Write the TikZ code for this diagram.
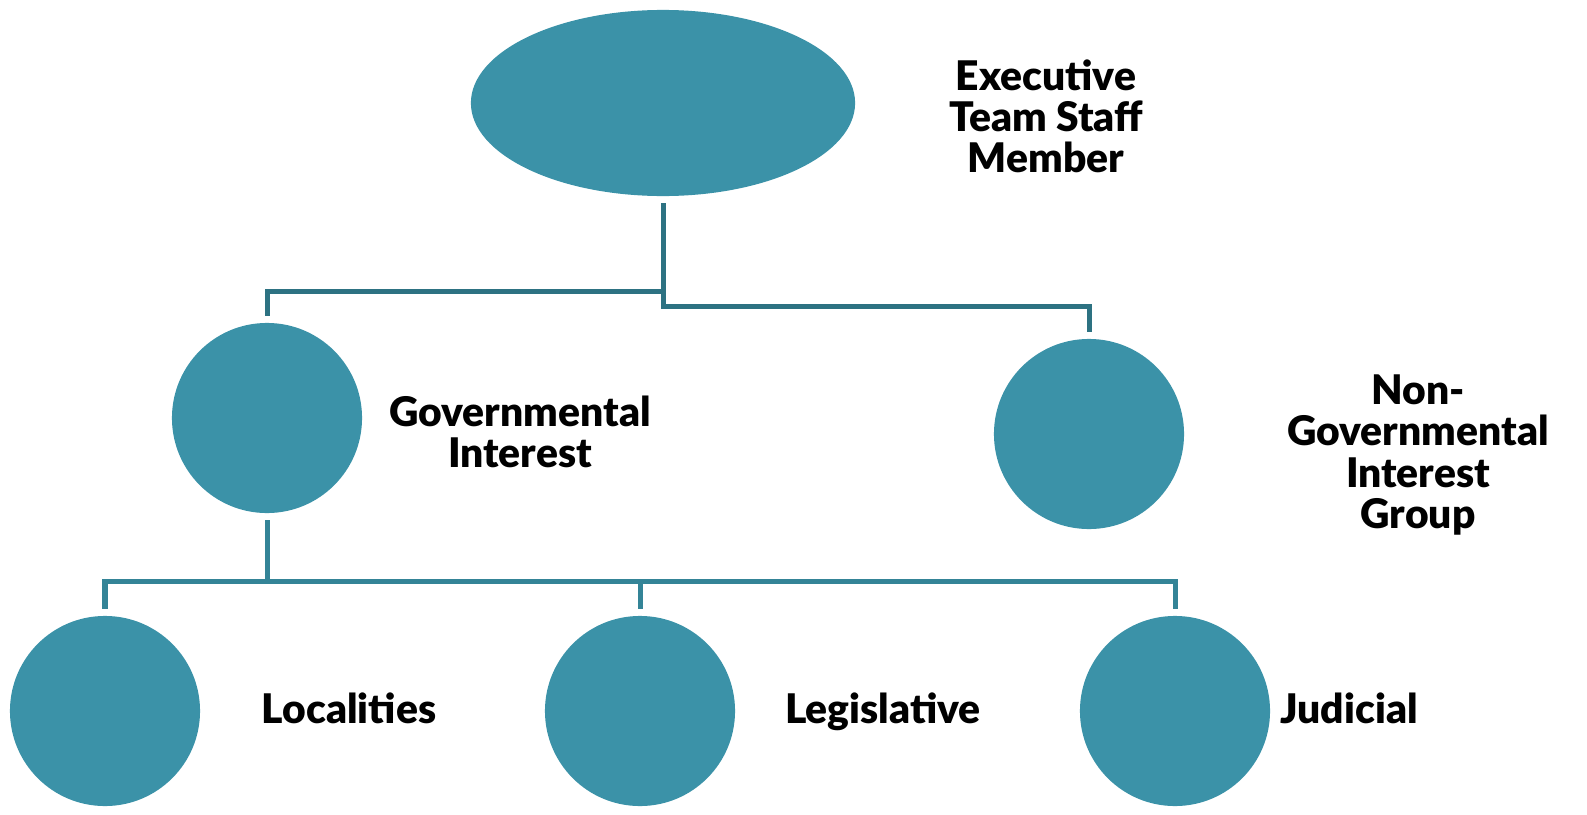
\documentclass[tikz,border=0pt]{standalone}
\usepackage{fontspec}
\setmainfont{Lato}[BoldFont={Lato Black}]
\usetikzlibrary{shapes.geometric}
\definecolor{teal1}{HTML}{3B92A8}
\definecolor{line1}{HTML}{2D7282}
\definecolor{line2}{HTML}{348497}
\begin{document}
\begin{tikzpicture}
		[x=0.01cm,y=-0.01cm,
		main node/.style={draw=none,fill=teal1,shape=circle,minimum size=1.9cm,inner sep=0pt,outer sep=0.07cm},
		tag/.style={align=center,font=\bfseries\fontsize{11.6}{11.7}\selectfont},
		link/.style={draw=line1,line width=0.05cm},
		sublink/.style={draw=line2,line width=0.05cm}]
		\useasboundingbox (0,0) rectangle (1587,815);
		
		\node[main node,shape=ellipse,minimum width=3.84cm,minimum height=1.86cm] (exec) at (663,103) {};
		\node[main node] (gov) at (267,418) {};
		\node[main node] (ngo) at (1089,434) {};
		\node[main node] (loc) at (105,711) {};
		\node[main node] (leg) at (640,711) {};
		\node[main node] (jud) at (1175,711) {};
		
		\node[tag] (t1) at (1046,116) {Executive\\Team Staff\\Member};
		\node[tag] (t2) at (520,432) {Governmental\\Interest};
		\node[tag] (t3) at (1418,455) {Non-\\Governmental\\Interest\\Group};
		\node[tag,anchor=base] (t4) at (349,723) {Localities};
		\node[tag,anchor=base] (t5) at (883,723) {Legislative};
		\node[tag,anchor=base] (t6) at (1349,723) {Judicial};
		
		\coordinate (b1) at (0,291);
		\coordinate (b2) at (0,306);
		\coordinate (b3) at (0,581);
		
		\draw[link] (exec.south) -- (exec.south |- b2) -| (ngo.north);
		\draw[link] (exec.south |- b1) -| (gov.north);
		\draw[sublink] (gov.south) -- (gov.south |- b3);
		\draw[sublink] (loc.north) |- (jud.north |- b3) -- (jud.north);
		\draw[sublink] (leg.north) -- (leg.north |- b3);
		\end{tikzpicture}
\end{document}
